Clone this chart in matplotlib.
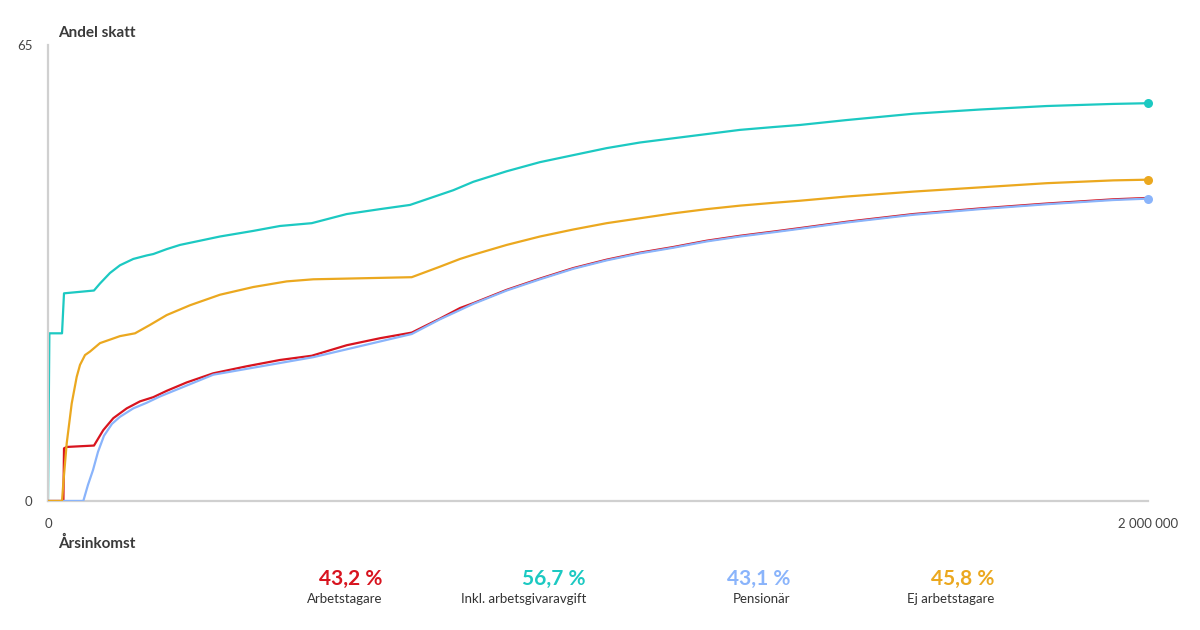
import matplotlib.pyplot as plt

plt.rcParams['font.family'] = ['Lato', 'DejaVu Sans']

# income (kr) and tax share (%) per series
inkl_x = [0, 2500, 25500, 29100, 83600, 94500, 112700, 130900, 155100, 179500,
          191500, 215800, 240000, 276400, 312700, 373300, 421800, 479500, 543100,
          603600, 658200, 736900, 773300, 834000, 894500, 955100, 1015800, 1076400,
          1136900, 1197600, 1258200, 1318700, 1367300, 1452200, 1573300, 1694500,
          1815800, 1936900, 2000000]
inkl_y = [0, 23.9, 23.9, 29.6, 30.0, 31.0, 32.5, 33.6, 34.5, 35.0,
          35.2, 35.9, 36.5, 37.1, 37.7, 38.5, 39.2, 39.6, 40.9,
          41.6, 42.2, 44.3, 45.5, 47.0, 48.3, 49.3, 50.3, 51.1,
          51.7, 52.3, 52.9, 53.3, 53.6, 54.3, 55.2, 55.8,
          56.3, 56.6, 56.7]

ej_x = [0, 25500, 27800, 34000, 43100, 52200, 58200, 67300, 76400, 94500,
        130900, 158200, 185500, 215800, 258200, 312700, 373300, 434000, 482400,
        543100, 661300, 712700, 749100, 773300, 834000, 894500, 955100, 1015800,
        1076400, 1136900, 1197600, 1258200, 1318700, 1367300, 1452200, 1573300,
        1694500, 1815800, 1936900, 2000000]
ej_y = [0, 0, 2.5, 8.2, 13.9, 17.7, 19.4, 20.8, 21.3, 22.5,
        23.5, 23.9, 25.1, 26.5, 27.9, 29.4, 30.5, 31.3, 31.6,
        31.7, 31.9, 33.4, 34.5, 35.1, 36.5, 37.7, 38.7, 39.6,
        40.3, 41.0, 41.6, 42.1, 42.5, 42.8, 43.4, 44.1,
        44.7, 45.3, 45.7, 45.8]

arb_x = [0, 28000, 29100, 34000, 58200, 83600, 100500, 118700, 143100, 167300,
         191500, 215800, 252200, 300500, 361300, 421800, 479500, 543100, 603600,
         661300, 712700, 749100, 773300, 834000, 894500, 955100, 1015800, 1076400,
         1136900, 1197600, 1258200, 1318700, 1367300, 1452200, 1573300, 1694500,
         1815800, 1936900, 2000000]
arb_y = [0, 0, 7.5, 7.7, 7.8, 7.9, 10.1, 11.8, 13.2, 14.2,
         14.8, 15.7, 16.9, 18.2, 19.2, 20.1, 20.7, 22.2, 23.2,
         24.0, 26.0, 27.5, 28.2, 30.1, 31.7, 33.2, 34.4, 35.4,
         36.2, 37.1, 37.8, 38.4, 38.9, 39.8, 40.9, 41.7,
         42.4, 43.0, 43.2]

pens_x = [0, 64200, 72700, 81800, 90900, 101800, 116400, 130900, 155100, 179500,
          203600, 300500, 482400, 661300, 712700, 773300, 834000, 894500, 955100,
          1015800, 1076400, 1136900, 1197600, 1258200, 1318700, 1367300, 1452200,
          1573300, 1694500, 1815800, 1936900, 2000000]
pens_y = [0, 0, 2.3, 4.4, 7.0, 9.3, 11.0, 12.0, 13.2, 14.0,
          14.9, 18.0, 20.5, 23.8, 25.9, 28.1, 30.0, 31.6, 33.1,
          34.3, 35.3, 36.1, 37.0, 37.7, 38.3, 38.8, 39.7,
          40.8, 41.6, 42.3, 42.9, 43.1]

labels = ['Arbetstagare', 'Inkl. arbetsgivaravgift', 'Pensionär', 'Ej arbetstagare']
values = ['43,2 %', '56,7 %', '43,1 %', '45,8 %']

RED = '#d8141f'
TEAL = '#1cc9c2'
BLUE = '#8ab4fb'
ORANGE = '#eba81f'

fig = plt.figure(figsize=(12, 6.3), dpi=100)
ax = fig.add_axes([0.04, 0.2048, 0.9167, 0.7238])

lw = 1.6
ax.plot(inkl_x, inkl_y, color=TEAL, lw=lw, zorder=2)
ax.plot(arb_x, arb_y, color=RED, lw=lw, zorder=3)
ax.plot(pens_x, pens_y, color=BLUE, lw=lw, zorder=4)
ax.plot(ej_x, ej_y, color=ORANGE, lw=lw, zorder=5)

# end markers
for xs, ys, c in [(inkl_x, inkl_y, TEAL), (ej_x, ej_y, ORANGE), (pens_x, pens_y, BLUE)]:
    ax.plot(xs[-1], ys[-1], 'o', color=c, ms=6.5, mec='none', zorder=6, clip_on=False)

ax.set_xlim(0, 2000000)
ax.set_ylim(0, 65)
ax.set_xticks([0, 2000000])
ax.set_xticklabels(['0', '2 000 000'])
ax.set_yticks([0, 65])
ax.set_yticklabels(['0', '65'])
ax.tick_params(length=0, labelsize=9.5, colors='#444444', labelcolor='#444444')
ax.tick_params(axis='x', pad=12)
ax.tick_params(axis='y', pad=11)

for side in ['top', 'right']:
    ax.spines[side].set_visible(False)
for side in ['left', 'bottom']:
    ax.spines[side].set_color('#d0d0d0')
    ax.spines[side].set_linewidth(1.6)

fig.text(0.0483, 0.9476, 'Andel skatt', fontsize=11, fontweight='bold',
         color='#3a3a3a', va='center', ha='left')
fig.text(0.0483, 0.1381, 'Årsinkomst', fontsize=11, fontweight='bold',
         color='#3a3a3a', va='center', ha='left')

# summary legend below the chart
colors = [RED, TEAL, BLUE, ORANGE]
right_edges = [382, 586, 790, 994]
for lab, val, c, xr in zip(labels, values, colors, right_edges):
    fig.text(xr / 1200, 1 - 579 / 630, val, fontsize=15, fontweight='bold',
             color=c, ha='right', va='center')
    fig.text(xr / 1200, 1 - 599 / 630, lab, fontsize=9.5, color='#333333',
             ha='right', va='center')

fig.savefig('out.png', dpi=100)
